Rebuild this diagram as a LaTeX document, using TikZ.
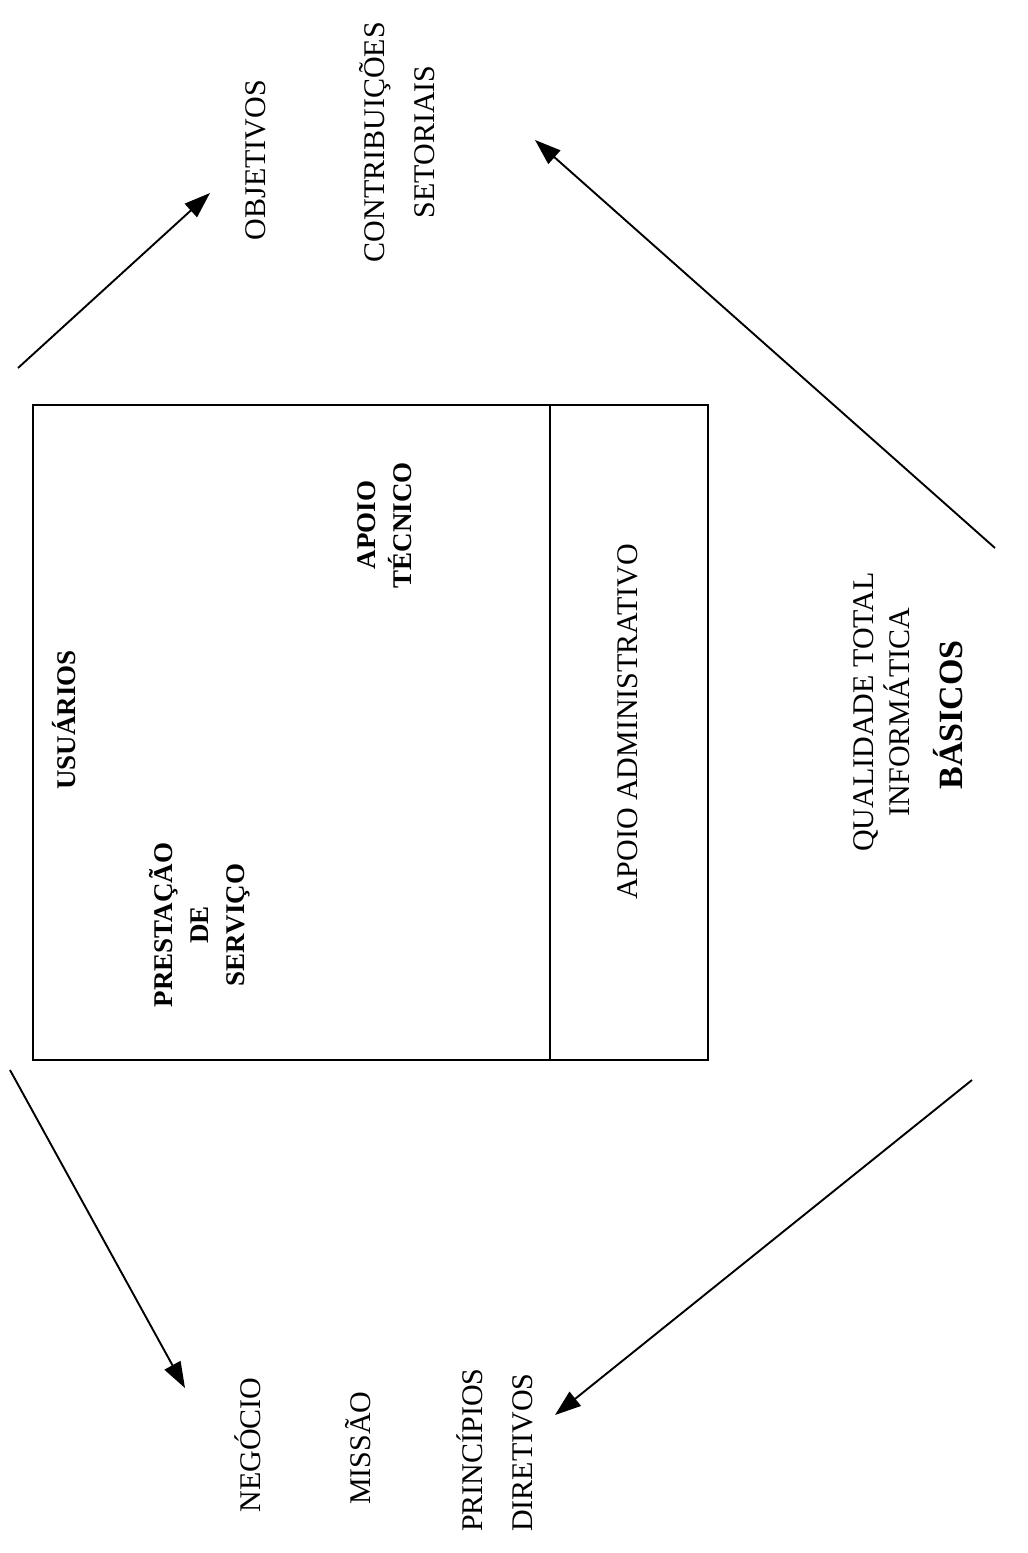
\documentclass[tikz,border=0pt]{standalone}
\usepackage{fontspec}
\setmainfont{Liberation Serif}
\usetikzlibrary{arrows.meta,positioning}

\begin{document}
\begin{tikzpicture}[x=1pt,y=-1pt,>={Triangle[length=26pt,width=18pt]},line width=1.9pt,
  lbl/.style={rotate=90,align=center,inner sep=2pt,font=\fontsize{30}{36}\selectfont},
  blbl/.style={lbl,font=\fontsize{27}{36}\selectfont\bfseries},
  panel/.style={draw,inner sep=0pt,outer sep=0pt,minimum height=655pt}]
  \useasboundingbox (0,0) rectangle (1028,1553);
  \node[panel,minimum width=517pt] (main) at (291.5,732.5) {};
  \node[panel,minimum width=158pt,right=0pt of main] (adm) {};
  \node[lbl] (obj) at (256,160) {OBJETIVOS};
  \node[lbl] (contr) at (397,142) {CONTRIBUIÇÕES\\[14pt]SETORIAIS};
  \node[blbl] (usu) at (64,720) {USUÁRIOS};
  \node[blbl] (prest) at (200,925) {PRESTAÇÃO\\DE\\SERVIÇO};
  \node[blbl] (tec) at (385,525) {APOIO\\TÉCNICO};
  \node[lbl] (admtxt) at (628,722) {APOIO ADMINISTRATIVO};
  \node[lbl] (qual) at (882,712) {QUALIDADE TOTAL\\INFORMÁTICA};
  \node[blbl,font=\fontsize{34}{40}\selectfont\bfseries] (bas) at (948,715) {BÁSICOS};
  \node[lbl] (neg) at (248,1445) {NEGÓCIO};
  \node[lbl] (mis) at (358,1448) {MISSÃO};
  \node[lbl,align=left] (princ) at (495,1450) {PRINCÍPIOS\\[14pt]DIRETIVOS};
  \coordinate (a1s) at (18,368);  \coordinate (a1e) at (210,193);
  \coordinate (a2s) at (995,548); \coordinate (a2e) at (535,140);
  \coordinate (a3s) at (10,1070); \coordinate (a3e) at (185,1388);
  \coordinate (a4s) at (972,1080);\coordinate (a4e) at (555,1415);
  \draw[->](a1s)--(a1e);\draw[->](a2s)--(a2e);
  \draw[->](a3s)--(a3e);\draw[->](a4s)--(a4e);
\end{tikzpicture}
\end{document}
